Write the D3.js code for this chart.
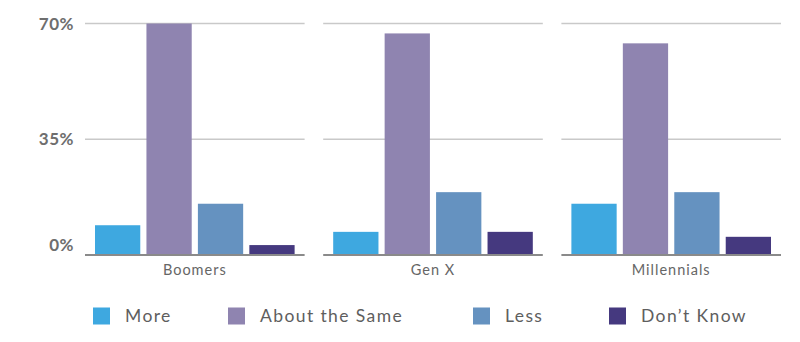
<!DOCTYPE html>
<html>
<head>
<meta charset="utf-8">
<script src="https://cdn.jsdelivr.net/npm/d3@7"></script>
<style>
  html, body { margin: 0; padding: 0; background: #fff; }
  svg { display: block; font-family: Lato, "Open Sans", sans-serif; }
</style>
</head>
<body>
<svg id="chart" width="800" height="342"></svg>
<script>
const categories = ["Boomers", "Gen X", "Millennials"];
const seriesNames = ["More", "About the Same", "Less", "Don\u2019t Know"];
const seriesColors = ["#3ea8e0", "#8f84b0", "#6592c0", "#45397f"];
const more = [9, 7, 15.5];
const aboutSame = [70, 67, 64];
const less = [15.5, 19, 19];
const dontKnow = [3, 7, 5.5];
const yTicks = [0, 35, 70];
const yTickLabels = ["0%", "35%", "70%"];

(function () {
const seriesValues = [more, aboutSame, less, dontKnow];
const data = categories.map((c, i) => ({
  cat: c,
  values: seriesNames.map((s, j) => ({ key: s, value: seriesValues[j][i], color: seriesColors[j] }))
}));

const svg = d3.select("#chart");
const mLeft = 85, mRight = 781, mTop = 23.5, mBottom = 255;

const y = d3.scaleLinear().domain([0, 70]).range([mBottom, mTop]);
const x0 = d3.scaleBand().domain(categories).range([mLeft, mRight]).paddingInner(0.078).paddingOuter(0);
const x1 = d3.scaleBand().domain(seriesNames).range([10, x0.bandwidth() - 10]).paddingInner(0.12).paddingOuter(0);

// y-axis labels (the 0% label sits above the baseline)
svg.append("g").selectAll("text").data(yTicks).join("text")
  .attr("x", 74)
  .attr("y", d => d === 0 ? y(d) - 10 : y(d))
  .attr("dy", "0.36em")
  .attr("text-anchor", "end")
  .attr("font-size", 17)
  .attr("font-weight", 700)
  .attr("letter-spacing", 0.5)
  .attr("fill", "#6e6e6e")
  .text((d, i) => yTickLabels[i]);

const panels = svg.append("g").selectAll("g").data(data).join("g")
  .attr("transform", d => `translate(${x0(d.cat)},0)`);

// gridlines
panels.each(function() {
  const g = d3.select(this);
  g.selectAll("line.grid").data(yTicks.filter(t => t > 0)).join("line")
    .attr("class", "grid")
    .attr("x1", 0).attr("x2", x0.bandwidth())
    .attr("y1", d => y(d)).attr("y2", d => y(d))
    .attr("stroke", "#c9c9c9").attr("stroke-width", 1.5);
});

// bars
panels.selectAll("rect").data(d => d.values).join("rect")
  .attr("x", d => x1(d.key))
  .attr("width", x1.bandwidth())
  .attr("y", d => y(d.value))
  .attr("height", d => y(0) - y(d.value))
  .attr("fill", d => d.color);

// baseline
panels.append("line")
  .attr("x1", 0).attr("x2", x0.bandwidth())
  .attr("y1", y(0)).attr("y2", y(0))
  .attr("stroke", "#8a8a8a").attr("stroke-width", 2);

// category labels
panels.append("text")
  .attr("x", x0.bandwidth() / 2)
  .attr("y", 274.5)
  .attr("text-anchor", "middle")
  .attr("font-size", 14.5)
  .attr("letter-spacing", 1)
  .attr("fill", "#666")
  .text(d => d.cat);

// legend
const legendX = [93, 228, 473, 609];
const legend = svg.append("g").selectAll("g").data(seriesNames).join("g")
  .attr("transform", (d, i) => `translate(${legendX[i]},307.5)`);
legend.append("rect")
  .attr("width", 17).attr("height", 17)
  .attr("fill", (d, i) => seriesColors[i]);
legend.append("text")
  .attr("x", 32).attr("y", 8.5).attr("dy", "0.36em")
  .attr("font-size", 17.5)
  .attr("letter-spacing", 1.4)
  .attr("fill", "#5e5e5e")
  .text(d => d);
})();
</script>
</body>
</html>
